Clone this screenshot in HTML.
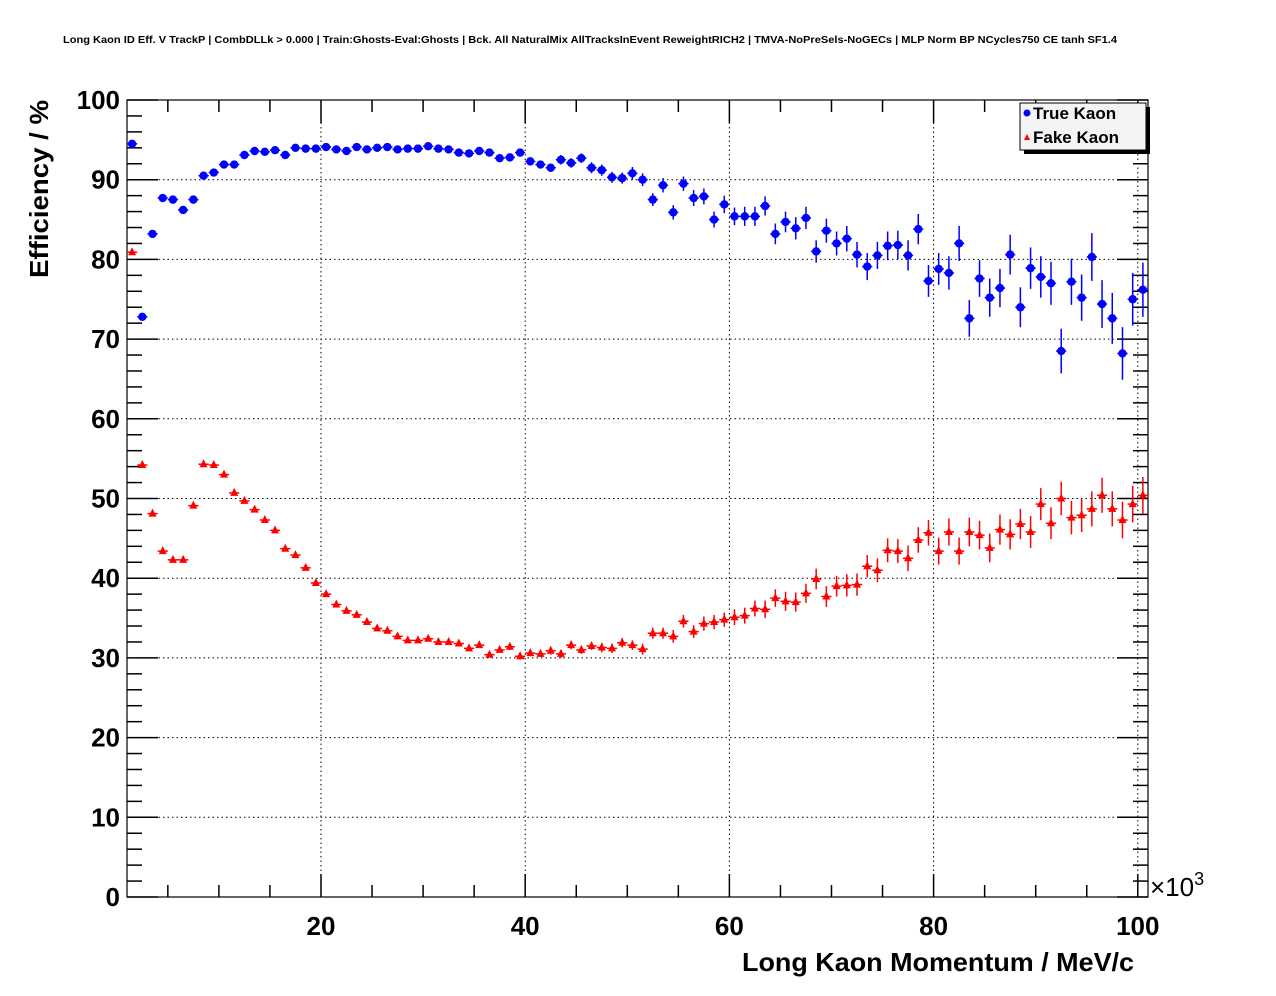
<!DOCTYPE html>
<html><head><meta charset="utf-8"><style>
html,body{margin:0;padding:0;background:#fff}
svg{display:block;font-family:"Liberation Sans",sans-serif}
</style></head><body>
<svg id="c" width="1276" height="996" viewBox="0 0 1276 996">
<text x="63" y="43" font-size="10" font-weight="bold" textLength="1054" lengthAdjust="spacingAndGlyphs">Long Kaon ID Eff. V TrackP | CombDLLk &gt; 0.000 | Train:Ghosts-Eval:Ghosts | Bck. All NaturalMix AllTracksInEvent ReweightRICH2 | TMVA-NoPreSels-NoGECs | MLP Norm BP NCycles750 CE tanh SF1.4</text>
<g id="grid"></g>
<g id="axes"></g>
<g id="marks"></g>
<text x="1134" y="971" font-size="26" font-weight="bold" text-anchor="end" textLength="392" lengthAdjust="spacingAndGlyphs">Long Kaon Momentum / MeV/c</text>
<text transform="translate(48,100) rotate(-90)" font-size="26" font-weight="bold" text-anchor="end" textLength="178" lengthAdjust="spacingAndGlyphs">Efficiency / %</text>
<text x="1150" y="896" font-size="26">×10<tspan dy="-11" font-size="18">3</tspan></text>
<g>
<rect x="1024" y="107" width="126" height="47" fill="#000"/>
<rect x="1020" y="103" width="126" height="47" fill="#f4f4f4" stroke="#000" stroke-width="1"/>
<circle cx="1027" cy="113" r="3.5" fill="#0000ff"/>
<text x="1033" y="119" font-size="17" font-weight="bold">True Kaon</text>
<polygon points="1024,140 1030,140 1027,134" fill="#ff0000"/>
<text x="1033" y="143" font-size="17" font-weight="bold">Fake Kaon</text>
</g>
</svg>
<script>
const xTicks=[20,40,60,80,100];
const yTicks=[0,10,20,30,40,50,60,70,80,90,100];
const trueKaon=[94.5,72.8,83.2,87.7,87.5,86.2,87.5,90.5,90.9,91.9,91.9,93.1,93.6,93.5,93.7,93.1,94.0,93.9,93.9,94.1,93.8,93.6,94.1,93.8,94.0,94.1,93.8,93.9,93.9,94.2,93.9,93.8,93.4,93.3,93.6,93.4,92.7,92.8,93.4,92.3,91.9,91.5,92.5,92.1,92.7,91.5,91.2,90.3,90.2,90.8,90.0,87.5,89.3,85.9,89.5,87.7,87.9,85.0,86.9,85.4,85.4,85.4,86.7,83.2,84.7,83.9,85.2,81.0,83.6,82.0,82.6,80.6,79.1,80.5,81.7,81.8,80.5,83.8,77.3,78.8,78.3,82.0,72.6,77.6,75.2,76.4,80.6,74.0,78.9,77.8,77.0,68.5,77.2,75.2,80.3,74.4,72.6,68.2,75.0,76.2];
const trueErr=[0.3,0.3,0.3,0.3,0.3,0.3,0.3,0.3,0.3,0.3,0.3,0.3,0.3,0.3,0.3,0.3,0.3,0.3,0.3,0.3,0.3,0.3,0.3,0.3,0.3,0.3,0.3,0.3,0.3,0.3,0.3,0.3,0.3,0.3,0.4,0.4,0.4,0.4,0.5,0.5,0.5,0.5,0.6,0.6,0.6,0.7,0.7,0.7,0.7,0.8,0.8,0.8,0.9,0.9,0.9,1.0,1.0,1.0,1.1,1.1,1.2,1.2,1.2,1.3,1.3,1.4,1.4,1.4,1.5,1.5,1.6,1.6,1.7,1.7,1.8,1.8,1.9,1.9,2.0,2.0,2.1,2.2,2.3,2.3,2.4,2.4,2.5,2.5,2.6,2.6,2.7,2.8,2.9,2.9,3.0,3.0,3.2,3.3,3.3,3.4];
const fakeKaon=[80.9,54.2,48.1,43.4,42.3,42.3,49.1,54.3,54.2,53.0,50.7,49.7,48.6,47.3,46.0,43.7,42.9,41.3,39.4,38.0,36.7,35.9,35.4,34.5,33.7,33.4,32.7,32.2,32.2,32.4,32.0,32.0,31.8,31.2,31.6,30.4,31.0,31.4,30.2,30.6,30.5,30.9,30.5,31.6,31.0,31.5,31.3,31.2,31.9,31.6,31.1,33.1,33.1,32.7,34.6,33.3,34.3,34.5,34.8,35.1,35.3,36.2,36.1,37.5,37.1,37.0,38.1,39.9,37.7,39.0,39.1,39.2,41.5,41.0,43.5,43.4,42.5,44.8,45.7,43.4,45.8,43.4,45.8,45.4,43.8,46.1,45.5,46.8,45.8,49.3,46.9,50.0,47.6,47.9,48.7,50.4,48.7,47.3,49.3,50.4];
const fakeErr=[0.2,0.2,0.2,0.2,0.2,0.2,0.2,0.2,0.2,0.2,0.2,0.2,0.2,0.2,0.2,0.2,0.2,0.2,0.2,0.2,0.2,0.2,0.2,0.2,0.2,0.3,0.3,0.3,0.3,0.3,0.3,0.3,0.3,0.3,0.3,0.3,0.3,0.4,0.4,0.4,0.4,0.5,0.5,0.5,0.5,0.5,0.6,0.6,0.6,0.6,0.7,0.7,0.7,0.8,0.8,0.8,0.9,0.9,0.9,1.0,1.0,1.0,1.1,1.1,1.2,1.2,1.2,1.3,1.3,1.3,1.4,1.4,1.4,1.5,1.5,1.5,1.6,1.6,1.6,1.7,1.7,1.7,1.8,1.8,1.8,1.9,1.9,1.9,2.0,2.0,2.0,2.1,2.1,2.1,2.2,2.2,2.2,2.3,2.3,2.3];
const L=127,R=1148,T=100,B=897,XMIN=1,XMAX=101,YMIN=0,YMAX=100;
function X(v){return L+(v-XMIN)/(XMAX-XMIN)*(R-L);}
function Y(v){return B-(v-YMIN)/(YMAX-YMIN)*(B-T);}
const NS="http://www.w3.org/2000/svg";
function mk(parent,tag,attrs){const e=document.createElementNS(NS,tag);for(const k in attrs)e.setAttribute(k,attrs[k]);parent.appendChild(e);return e;}
const grid=document.getElementById('grid'),axes=document.getElementById('axes'),marks=document.getElementById('marks');
xTicks.forEach(t=>{const e=mk(grid,'line',{x1:X(t),x2:X(t),y1:T,y2:B,stroke:'#000','stroke-width':1,'stroke-dasharray':'1.5,3'});

});
yTicks.filter(t=>t>0&&t<100).forEach(t=>{const e=mk(grid,'line',{x1:L,x2:R,y1:Y(t),y2:Y(t),stroke:'#000','stroke-width':1,'stroke-dasharray':'1.5,3'});

});
const fr=mk(axes,'rect',{x:L,y:T,width:R-L,height:B-T,fill:'none',stroke:'#000','stroke-width':1.2});


for(let v=5;v<=100;v+=5){const maj=v%20===0;const len=maj?23:12;
mk(axes,'line',{x1:X(v),x2:X(v),y1:B,y2:B-len,stroke:'#000','stroke-width':1.5});
mk(axes,'line',{x1:X(v),x2:X(v),y1:T,y2:T+len,stroke:'#000','stroke-width':1.5});}
xTicks.forEach(t=>{const e=mk(axes,'text',{x:X(t),y:935,'font-size':26,'font-weight':'bold','text-anchor':'middle'});e.textContent=t;

});
for(let v=0;v<=100;v+=2){const maj=v%10===0;const len=maj?31:15;
mk(axes,'line',{x1:L,x2:L+len,y1:Y(v),y2:Y(v),stroke:'#000','stroke-width':1.5});
mk(axes,'line',{x1:R,x2:R-len,y1:Y(v),y2:Y(v),stroke:'#000','stroke-width':1.5});}
yTicks.forEach(t=>{const e=mk(axes,'text',{x:120,y:Y(t)+9,'font-size':26,'font-weight':'bold','text-anchor':'end'});e.textContent=t;

});
function draw(vals,errs,color,shape,name){
 const g=mk(marks,'g',{});
 
 
 vals.forEach((v,i)=>{const c=XMIN+0.5+i;const x=X(c),y=Y(v);
  mk(g,'line',{x1:X(c-0.5),x2:X(c+0.5),y1:y,y2:y,stroke:color,'stroke-width':1.5});
  mk(g,'line',{x1:x,x2:x,y1:Y(v-errs[i]),y2:Y(v+errs[i]),stroke:color,'stroke-width':1.5});
  let m;
  if(shape==='circle') m=mk(g,'circle',{cx:x,cy:y,r:4.2,fill:color});
  else m=mk(g,'polygon',{points:`${x-4},${y+3} ${x+4},${y+3} ${x},${y-5}`,fill:color});
  
  
 });
}
draw(trueKaon,trueErr,'#0000ff','circle','true-kaon');
draw(fakeKaon,fakeErr,'#ff0000','tri','fake-kaon');
</script>
</body></html>
